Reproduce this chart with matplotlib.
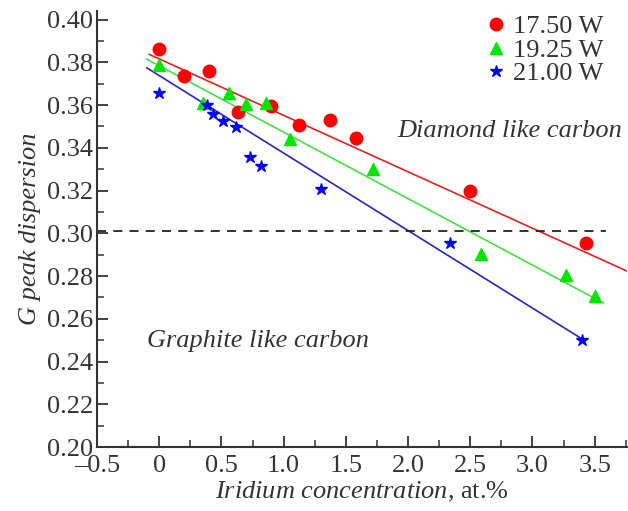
import matplotlib.pyplot as plt
from matplotlib.ticker import MultipleLocator

# data
x_red = [0.0, 0.2, 0.4, 0.63, 0.9, 1.12, 1.37, 1.58, 2.5, 3.43]
y_red = [0.386, 0.3735, 0.3757, 0.3568, 0.3594, 0.3508, 0.3532, 0.3447, 0.3197, 0.2955]

x_green = [0.0, 0.35, 0.56, 0.70, 0.86, 1.05, 1.72, 2.59, 3.27, 3.5]
y_green = [0.3785, 0.3608, 0.3655, 0.3605, 0.3608, 0.3440, 0.3300, 0.2905, 0.2805, 0.2705]

x_blue = [0.0, 0.38, 0.43, 0.51, 0.62, 0.73, 0.82, 1.30, 2.34, 3.40]
y_blue = [0.3655, 0.3600, 0.3558, 0.3525, 0.3497, 0.3357, 0.3315, 0.3207, 0.2953, 0.2503]

# fitted lines, end points
fit_red_x = [-0.08, 3.76]
fit_red_y = [0.3837, 0.2823]
fit_green_x = [-0.10, 3.57]
fit_green_y = [0.3815, 0.2674]
fit_blue_x = [-0.10, 3.40]
fit_blue_y = [0.3774, 0.2505]

threshold = 0.301
labels = ['17.50 W', '19.25 W', '21.00 W']

plt.rcParams['font.family'] = ['Liberation Serif', 'DejaVu Serif']
plt.rcParams['mathtext.fontset'] = 'custom'
plt.rcParams['mathtext.rm'] = 'Liberation Serif'
plt.rcParams['mathtext.it'] = 'Liberation Serif:italic'

fs = 19
grey = '#333333'

fig = plt.figure(figsize=(6.28, 5.11), dpi=100)
ax = fig.add_axes([0.1545, 0.1252, 0.8440, 0.8533])

ax.plot(fit_red_x, fit_red_y, color='#e52222', lw=1.2)
ax.plot(fit_green_x, fit_green_y, color='#44e044', lw=1.2)
ax.plot(fit_blue_x, fit_blue_y, color='#2626c0', lw=1.2)
ax.plot([-0.5, 3.59], [threshold, threshold], color='#222222', lw=1.3, ls=(0, (5, 4)))

ax.plot(x_red, y_red, 'o', color='#ff0000', ms=9, ls='none', label=labels[0])
ax.plot(x_green, y_green, '^', color='#00e600', ms=9, ls='none', label=labels[1])
ax.plot(x_blue, y_blue, '*', color='#0000ff', ms=9, ls='none', label=labels[2])

ax.set_xlim(-0.5, 3.76)
ax.set_ylim(0.20, 0.404)
ax.xaxis.set_minor_locator(MultipleLocator(0.25))
ax.yaxis.set_minor_locator(MultipleLocator(0.01))
ax.set_xticks([-0.5, 0, 0.5, 1.0, 1.5, 2.0, 2.5, 3.0, 3.5])
ax.set_xticklabels(['\u20130.5', '0', '0.5', '1.0', '1.5', '2.0', '2.5', '3.0', '3.5'])
ax.set_yticks([0.20 + 0.02 * i for i in range(11)])
ax.set_yticklabels(['%.2f' % (0.20 + 0.02 * i) for i in range(11)])

for s in ['top', 'right']:
    ax.spines[s].set_visible(False)
for s in ['left', 'bottom']:
    ax.spines[s].set_linewidth(1.5)
    ax.spines[s].set_color(grey)
ax.tick_params(which='major', direction='in', length=8, width=1.3, labelsize=fs,
               colors=grey, labelcolor=grey)
ax.tick_params(axis='y', which='major', pad=3)
ax.tick_params(axis='x', which='major', pad=6)
ax.tick_params(which='minor', direction='in', length=5, width=1.1, colors=grey)

ax.set_ylabel('G peak dispersion', fontsize=fs, style='italic', color=grey, labelpad=4)
ax.set_xlabel(r'$Iridium\ concentration$, at.%', fontsize=fs, color=grey, labelpad=2)

ax.text(3.72, 0.3477, 'Diamond like carbon', fontsize=fs, style='italic', color=grey,
        ha='right', va='center')
ax.text(-0.1, 0.2495, 'Graphite like carbon', fontsize=fs, style='italic', color=grey,
        ha='left', va='center')

leg = ax.legend(loc='upper right', frameon=False, fontsize=fs, handlelength=0.6,
                handletextpad=0.35, labelspacing=0.0, borderaxespad=0.0,
                bbox_to_anchor=(0.975, 1.015))
for t in leg.get_texts():
    t.set_color(grey)

plt.savefig('out.png', dpi=100)
